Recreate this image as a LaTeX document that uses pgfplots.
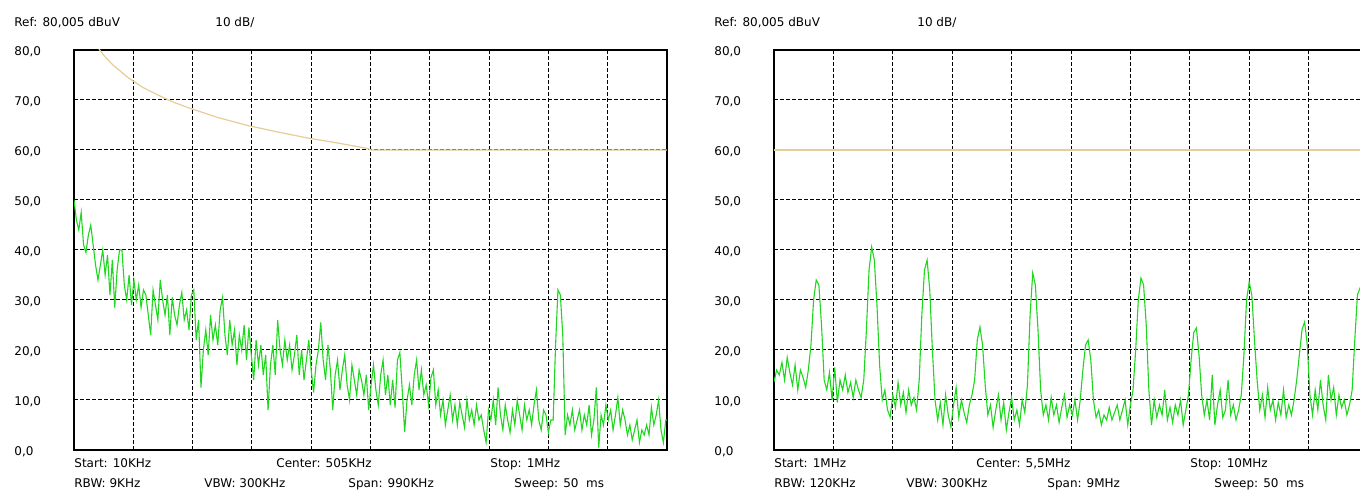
\documentclass[border=0pt]{standalone}
\usepackage{fontspec}
\setmainfont{DejaVu Sans}
\usepackage{pgfplots}
\pgfplotsset{compat=1.18}
\definecolor{trace}{RGB}{30,215,30}
\definecolor{limitc}{RGB}{228,205,150}
\pgfplotsset{sa/.style={
  scale only axis, height=200pt, ymin=0, ymax=80,
  ytick={0,10,20,30,40,50,60,70,80},
  yticklabels={{0,0},{10,0},{20,0},{30,0},{40,0},{50,0},{60,0},{70,0},{80,0}},
  xticklabels={}, major tick length=0pt,
  grid=major, major grid style={black, line width=0.5pt, dash pattern=on 1.8pt off 1.2pt},
  axis line style={line width=1.3pt, black},
  tick label style={font=\fontsize{6pt}{7pt}\selectfont},
  yticklabel style={anchor=base west, inner sep=0pt, xshift=-30pt, yshift=-3pt},
  /pgf/number format/assume math mode=true,
  clip=true,
}}
\begin{document}
\begin{tikzpicture}[x=1pt, y=1pt, font=\fontsize{6pt}{7pt}\selectfont]
\path[use as bounding box, clip] (0,0) rectangle (680,245);
% ---------------- left panel ----------------
\begin{axis}[sa, at={(37pt,20pt)}, anchor=south west, width=296.5pt,
  xmin=10, xmax=1000, xtick={109,208,307,406,505,604,703,802,901}]
\addplot[limitc, line width=0.6pt] coordinates {
(10,95) (20,88.5) (30,84.9) (40,82.4) (53,80) (60,78.9) (75,77) (100,74.5) (125,72.5) (150,71) (175,69.6) (200,68.5) (250,66.5) (300,64.9) (350,63.6) (400,62.4) (450,61.4) (500,60.3) (506,60) (1000,60)};
\addplot[trace, line width=0.55pt] coordinates {
(10,50) (14,46) (18,44) (22,47.5) (26,41) (30,39.5) (34,43) (38,45) (42,41) (46,37)
(50,34) (54,37) (58,40) (62,35) (66,39) (70,31) (74,38) (78,28.5) (82,36) (86,40)
(90,40) (94,33) (98,30) (102,35) (106,29) (110,34) (114,30) (118,33) (122,28.5) (126,32)
(130,31) (134,27) (138,23) (142,32) (146,29) (150,26) (154,34) (158,30) (162,27) (166,31)
(170,23) (174,30.5) (178,27) (182,25) (186,29) (190,31.5) (194,26) (198,28) (202,24) (206,31)
(210,32) (214,22) (218,26) (222,12.5) (226,20) (230,24) (234,19) (238,27) (242,22) (246,25)
(250,21) (254,28) (258,30.5) (262,23) (266,19) (270,26) (274,21) (278,24) (282,17) (286,23)
(290,20) (294,25) (298,18) (302,24.5) (306,19) (310,14) (314,22) (318,17) (322,21) (326,15)
(330,19) (334,8) (338,17) (342,21) (346,15) (350,26) (354,20) (358,17) (362,22) (366,18)
(370,21) (374,16) (378,19) (382,23) (386,15) (390,20) (394,14) (398,18) (402,22) (406,16)
(410,11.5) (414,17) (418,20) (422,25.5) (426,18) (430,14) (434,21) (438,16) (442,8) (446,15)
(450,18) (454,12) (458,16) (462,19) (466,13) (470,10) (474,17) (478,14) (482,11) (486,16)
(490,14) (494,11) (498,15) (502,8) (506,13) (510,17) (514,12) (518,9) (522,15) (526,18)
(530,11) (534,15) (538,9) (542,14) (546,8.5) (550,18) (554,19.5) (558,12) (562,3.6) (566,10)
(570,13) (574,9) (578,15) (582,18) (586,12) (590,16) (594,11) (598,13) (602,9) (606,14.5)
(610,16) (614,9) (618,12) (622,7) (626,10) (630,5) (634,8) (638,11) (642,6) (646,9)
(650,5) (654,9.5) (658,7) (662,4.5) (666,10) (670,6) (674,8) (678,5) (682,9) (686,6)
(690,7) (694,4) (698,1.5) (702,8) (706,6) (710,10) (714,5) (718,12.5) (722,7) (726,4)
(730,9) (734,6) (738,3.5) (742,8) (746,5) (750,10) (754,7) (758,4) (762,9) (766,6)
(770,8) (774,5) (778,9) (782,12) (786,6) (790,4) (794,8) (798,7) (802,3.5) (806,6)
(810,6) (814,21) (818,32) (822,31) (826,23) (830,3) (834,7) (838,5) (842,8) (846,4)
(850,6) (854,8) (858,4) (862,7) (866,5) (870,9) (874,3) (878,6) (882,12.5) (886,0.5)
(890,7) (894,5) (898,9) (902,6) (906,8) (910,4) (914,7) (918,10.5) (922,5) (926,8)
(930,6) (934,3) (938,5) (942,2) (946,4) (950,6) (954,1.5) (958,4) (962,3) (966,5)
(970,3) (974,8.5) (978,5) (982,7) (986,10) (990,4) (994,1.5) (998,6) (1000,6)};
\end{axis}
% ---------------- right panel ----------------
\begin{axis}[sa, at={(387pt,20pt)}, anchor=south west, width=297pt,
  xmin=1, xmax=10, xtick={1.9,2.8,3.7,4.6,5.5,6.4,7.3,8.2,9.1}]
\addplot[limitc, line width=0.6pt] coordinates {(1,60) (10,60)};
\addplot[trace, line width=0.55pt] coordinates {
(1.00,13.6) (1.04,16) (1.08,15) (1.12,17.5) (1.16,14) (1.20,18.5) (1.24,15.5) (1.28,13) (1.32,17) (1.36,12)
(1.40,16) (1.44,14.5) (1.48,12.5) (1.52,16) (1.56,21) (1.60,30) (1.64,34) (1.68,33) (1.72,25) (1.76,14)
(1.80,12) (1.84,15.5) (1.88,10) (1.92,16.5) (1.96,9.5) (2.00,14) (2.04,12) (2.08,15) (2.12,11.5) (2.16,13.5)
(2.20,10.5) (2.24,14) (2.28,12) (2.32,10.5) (2.36,14) (2.40,24) (2.44,36) (2.48,40.6) (2.52,38) (2.56,29)
(2.60,17) (2.64,10) (2.68,12) (2.72,8) (2.76,6.6) (2.80,11) (2.84,8.5) (2.88,13.5) (2.92,9) (2.96,11.5)
(3.00,7.5) (3.04,12) (3.08,9) (3.12,10.5) (3.16,8) (3.20,14) (3.24,27) (3.28,36) (3.32,38) (3.36,32)
(3.40,20) (3.44,10) (3.48,6) (3.52,9.5) (3.56,5) (3.60,11) (3.64,7) (3.68,4.6) (3.72,9) (3.76,12.5)
(3.80,6.5) (3.84,10) (3.88,7.5) (3.92,5.5) (3.96,9) (4.00,11) (4.04,14) (4.08,22) (4.12,24.6) (4.16,21)
(4.20,13) (4.24,7) (4.28,9) (4.32,4.5) (4.36,8) (4.40,11) (4.44,6) (4.48,9.5) (4.52,4) (4.56,7.5)
(4.60,10.5) (4.64,6) (4.68,8) (4.72,5) (4.76,10) (4.80,7.5) (4.84,13) (4.88,27) (4.92,35.4) (4.96,33)
(5.00,24) (5.04,12) (5.08,7) (5.12,9) (5.16,6) (5.20,10.5) (5.24,7) (5.28,9) (5.32,5.5) (5.36,8.5)
(5.40,11) (5.44,6.5) (5.48,9) (5.52,7) (5.56,10) (5.60,6) (5.64,10) (5.68,16) (5.72,21) (5.76,22)
(5.80,18) (5.84,10) (5.88,6.5) (5.92,8) (5.96,5) (6.00,7) (6.04,6) (6.08,8.5) (6.12,6) (6.16,7.5)
(6.20,9) (6.24,6) (6.28,8) (6.32,10) (6.36,5) (6.40,9) (6.44,12) (6.48,20) (6.52,30) (6.56,34.4)
(6.60,33) (6.64,25) (6.68,12) (6.72,5) (6.76,10) (6.80,6.5) (6.84,9) (6.88,7) (6.92,12) (6.96,6)
(7.00,8.5) (7.04,5.5) (7.08,9) (7.12,7) (7.16,10) (7.20,5) (7.24,8) (7.28,11) (7.32,18) (7.36,23.5)
(7.40,24.4) (7.44,19) (7.48,11) (7.52,7) (7.56,10) (7.60,6) (7.64,15) (7.68,5) (7.72,9) (7.76,12)
(7.80,6.5) (7.84,8) (7.88,14) (7.92,7) (7.96,9) (8.00,6) (8.04,8) (8.08,11) (8.12,19) (8.16,30)
(8.20,33.6) (8.24,31) (8.28,22) (8.32,14) (8.36,8) (8.40,11) (8.44,6.5) (8.48,12.5) (8.52,8) (8.56,10)
(8.60,6) (8.64,9.5) (8.68,7) (8.72,12) (8.76,6.5) (8.80,9) (8.84,7) (8.88,10) (8.92,14) (8.96,19)
(9.00,24) (9.04,25.6) (9.08,21) (9.12,11) (9.16,7) (9.20,12) (9.24,8) (9.28,14) (9.32,9) (9.36,6)
(9.40,15) (9.44,10) (9.48,12.5) (9.52,7) (9.56,11) (9.60,8.5) (9.64,10) (9.68,7) (9.72,9) (9.76,12)
(9.80,22) (9.84,31) (9.88,32.4) (9.92,30) (9.96,24) (10.00,15)};
\end{axis}
% ---------------- header and footer texts ----------------
\path[every node/.style={anchor=base west, inner sep=0pt}]
  (7,231.7) node {Ref: 80,005 dBuV}
  (107.5,231.7) node {10 dB/}
  (357,231.7) node {Ref: 80,005 dBuV}
  (458.5,231.7) node {10 dB/}
  (37,11) node {Start: 10KHz}
  (138,11) node {Center: 505KHz}
  (245,11) node {Stop: 1MHz}
  (37,1) node {RBW: 9KHz}
  (102,1) node {VBW: 300KHz}
  (174,1) node {Span: 990KHz}
  (257,1) node {Sweep: 50\ \ ms}
  (387,11) node {Start: 1MHz}
  (488,11) node {Center: 5,5MHz}
  (595,11) node {Stop: 10MHz}
  (387,1) node {RBW: 120KHz}
  (453,1) node {VBW: 300KHz}
  (523.5,1) node {Span: 9MHz}
  (607,1) node {Sweep: 50\ \ ms};
\end{tikzpicture}
\end{document}
